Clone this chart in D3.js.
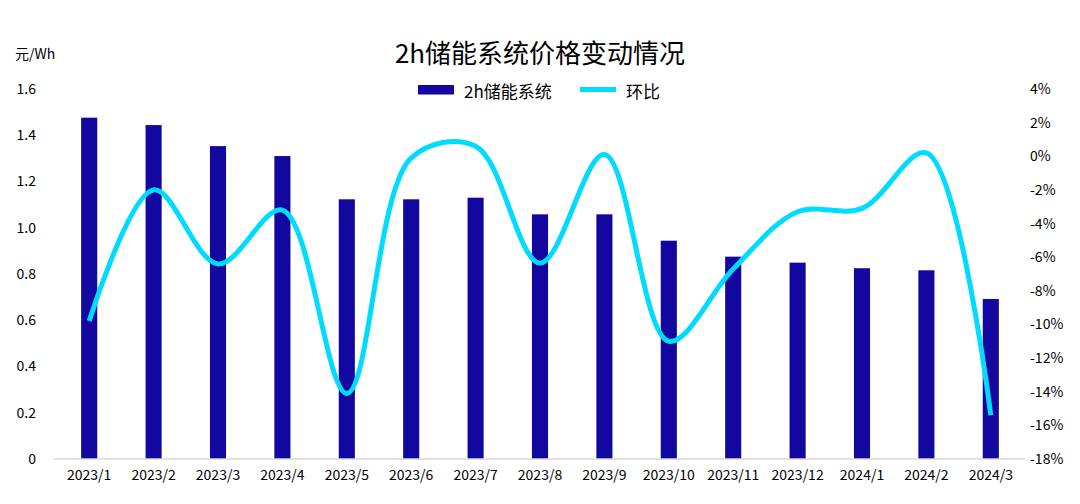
<html>
<head>
  <meta charset="utf-8">
  <title>2h储能系统价格变动情况</title>
  <script src="https://cdn.jsdelivr.net/npm/d3@7"></script>
  <style>
    body { margin: 0; background: #fff; }
    text { font-family: "Noto Sans CJK SC", "Noto Sans", sans-serif; fill: #000; font-weight: 400; }
  </style>
</head>
<body>
  <script>
    // Størrelse
    const w = 1080;
    const h = 504;

    // Data
    const categories = ["2023/1", "2023/2", "2023/3", "2023/4", "2023/5", "2023/6", "2023/7", "2023/8",
      "2023/9", "2023/10", "2023/11", "2023/12", "2024/1", "2024/2", "2024/3"];
    const priceValues = [1.476, 1.444, 1.353, 1.31, 1.123, 1.123, 1.13, 1.058,
      1.058, 0.944, 0.875, 0.849, 0.825, 0.816, 0.692];
    const momValues = [-9.8, -2.0, -6.4, -3.2, -14.1, -0.1, 0.6, -6.35,
      0.1, -11.0, -6.7, -3.3, -3.1, 0.2, -15.4]; // i procent
    const leftTicks = [0, 0.2, 0.4, 0.6, 0.8, 1.0, 1.2, 1.4, 1.6];
    const rightTicks = [-18, -16, -14, -12, -10, -8, -6, -4, -2, 0, 2, 4];

    const barColor = "#12079e";
    const lineColor = "#00dcff";

    // Skalaer
    const xScale = d3.scaleBand()
      .domain(categories)
      .range([57, 1023])
      .paddingInner(0.75)
      .paddingOuter(0.375);

    const yLeft = d3.scaleLinear()
      .domain([0, 1.6])
      .range([459, 89]);

    const yRight = d3.scaleLinear()
      .domain([-18, 4])
      .range([459, 89]);

    const svg = d3.select("body")
      .append("svg")
      .attr("width", w)
      .attr("height", h);

    // Titel
    svg.append("text")
      .attr("x", 540)
      .attr("y", 51)
      .attr("text-anchor", "middle")
      .attr("dominant-baseline", "central")
      .style("font-size", "26px")
      .text("2h储能系统价格变动情况");

    // Enhed
    svg.append("text")
      .attr("x", 15)
      .attr("y", 53)
      .attr("dominant-baseline", "central")
      .style("font-size", "14px")
      .text("元/Wh");

    // Bars
    svg.selectAll("rect.bar")
      .data(priceValues)
      .enter()
      .append("rect")
      .attr("class", "bar")
      .attr("x", (d, i) => xScale(categories[i]))
      .attr("y", d => yLeft(d))
      .attr("width", xScale.bandwidth())
      .attr("height", d => yLeft(0) - yLeft(d))
      .attr("fill", barColor);

    // X-akse linje og labels
    const xAxis = d3.axisBottom(xScale).tickSize(0).tickPadding(11);
    const gx = svg.append("g")
      .attr("transform", "translate(0," + yLeft(0) + ")")
      .call(xAxis);
    gx.select(".domain").remove();
    gx.selectAll("text").style("font-size", "14px").attr("fill", "#000");
    svg.append("line")
      .attr("x1", 54).attr("x2", 1025)
      .attr("y1", yLeft(0)).attr("y2", yLeft(0))
      .attr("stroke", "#d9d9d9")
      .attr("stroke-width", 1.5);

    // Venstre akse
    const leftAxis = d3.axisLeft(yLeft)
      .tickValues(leftTicks)
      .tickSize(0)
      .tickPadding(0)
      .tickFormat(d => d === 0 ? "0" : d.toFixed(1));
    const gl = svg.append("g")
      .attr("transform", "translate(36,0)")
      .call(leftAxis);
    gl.select(".domain").remove();
    gl.selectAll("text").style("font-size", "14px").attr("fill", "#000");

    // Højre akse
    const rightAxis = d3.axisRight(yRight)
      .tickValues(rightTicks)
      .tickSize(0)
      .tickPadding(0)
      .tickFormat(d => d + "%");
    const gr = svg.append("g")
      .attr("transform", "translate(1030,0)")
      .call(rightAxis);
    gr.select(".domain").remove();
    gr.selectAll("text").style("font-size", "14px").attr("fill", "#000");

    // Linje (glattet)
    const line = d3.line()
      .x((d, i) => xScale(categories[i]) + xScale.bandwidth() / 2)
      .y(d => yRight(d))
      .curve(d3.curveCatmullRom.alpha(0.5));

    svg.append("path")
      .datum(momValues)
      .attr("d", line)
      .attr("fill", "none")
      .attr("stroke", lineColor)
      .attr("stroke-width", 5)
      .attr("stroke-linejoin", "round");

    // Legende
    const legend = svg.append("g");
    legend.append("rect")
      .attr("x", 418).attr("y", 85)
      .attr("width", 36).attr("height", 9.5)
      .attr("fill", barColor);
    legend.append("text")
      .attr("x", 464).attr("y", 90)
      .attr("dominant-baseline", "central")
      .style("font-size", "17px")
      .text("2h储能系统");
    legend.append("line")
      .attr("x1", 580).attr("x2", 616)
      .attr("y1", 89.5).attr("y2", 89.5)
      .attr("stroke", lineColor)
      .attr("stroke-width", 5);
    legend.append("text")
      .attr("x", 626).attr("y", 90)
      .attr("dominant-baseline", "central")
      .style("font-size", "17px")
      .text("环比");
  </script>
</body>
</html>
